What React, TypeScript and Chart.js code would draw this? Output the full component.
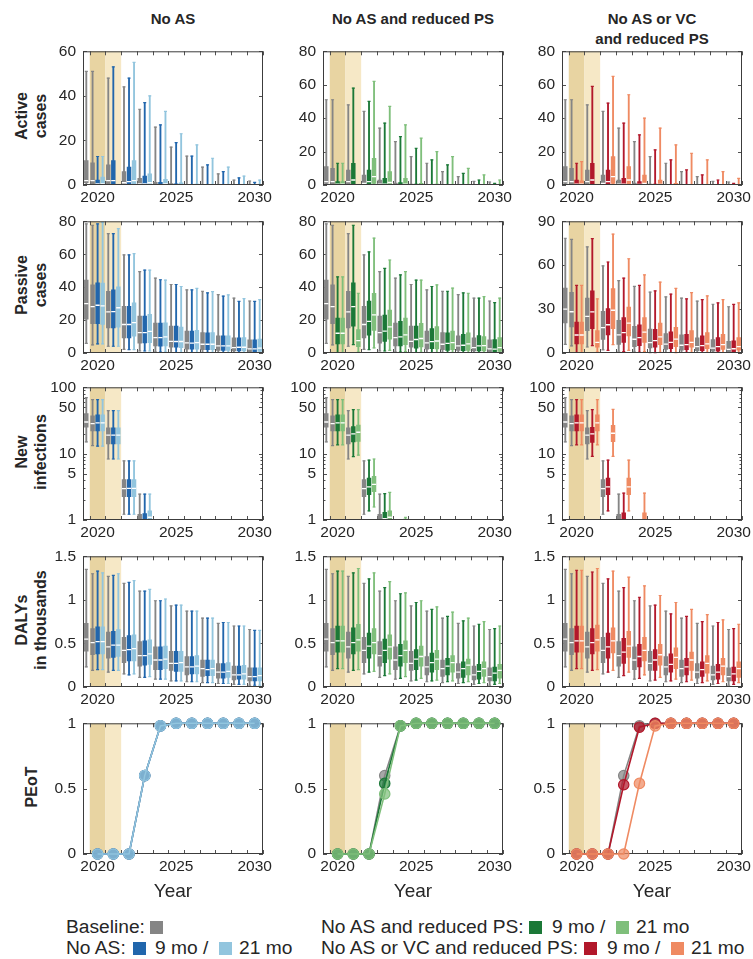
import React, { useEffect, useRef } from 'react';
import { Chart, registerables } from 'chart.js';

Chart.register(...registerables);

// ---------------- data ----------------
const YEARS = [2020, 2021, 2022, 2023, 2024, 2025, 2026, 2027, 2028, 2029, 2030];
const PRE_YEAR = 2019; // baseline-only year shown left of 2020
const X_TICK_LABELS = [2020, 2025, 2030];
const INTERRUPT_9MO = [2019.5, 2020.5];
const INTERRUPT_21MO = [2020.5, 2021.5];

// box stats: [min, q1, median, q3, max]; baseline arrays start with PRE_YEAR
const activeBaseline = [
  [0, 1, 2, 11, 51], [0, 0.5, 2, 10, 51], [0, 0.5, 2, 9, 48], [0, 0.3, 1, 6, 44],
  [0, 0, 0.5, 3, 34], [0, 0, 0.2, 1.2, 26], [0, 0, 0, 0.6, 17], [0, 0, 0, 0.3, 13],
  [0, 0, 0, 0, 8], [0, 0, 0, 0, 5], [0, 0, 0, 0, 2.2], [0, 0, 0, 0, 1.8],
];
const activeNoAS9 = [
  [0, 0, 0.5, 2.2, 12.8], [0, 0.5, 2, 11, 53], [0, 0.5, 1.5, 8, 48], [0, 0, 0.5, 4, 37],
  [0, 0, 0.2, 1.2, 27], [0, 0, 0, 0.5, 19], [0, 0, 0, 0.2, 13], [0, 0, 0, 0, 9],
  [0, 0, 0, 0, 6], [0, 0, 0, 0, 3.2], [0, 0, 0, 0, 1.2],
];
const activeNoAS21 = [
  [0, 0, 0.5, 3.5, 12.8], [0, 0, 0, 0, 0], [0, 0.5, 2, 11, 55], [0, 0, 1, 5, 40],
  [0, 0, 0.5, 2.5, 33], [0, 0, 0, 1, 23], [0, 0, 0, 0.4, 18], [0, 0, 0, 0, 12],
  [0, 0, 0, 0, 8], [0, 0, 0, 0, 4], [0, 0, 0, 0, 2.2],
];
const activeRPS9 = [
  [0, 0, 0.5, 2, 13], [0, 0.5, 3, 13, 58], [0, 0.3, 2, 9, 50], [0, 0, 0.5, 4, 37],
  [0, 0, 0.2, 1.5, 29], [0, 0, 0, 0.5, 22], [0, 0, 0, 0.2, 15], [0, 0, 0, 0, 12],
  [0, 0, 0, 0, 7], [0, 0, 0, 0, 3], [0, 0, 0, 0, 1],
];
const activeRPS21 = [
  [0, 0, 0.5, 2, 13], [0, 0, 0, 0, 0], [0, 1, 5, 16, 62], [0, 0, 1.5, 8, 47],
  [0, 0, 0.5, 4, 36], [0, 0, 0.2, 1, 28], [0, 0, 0, 0.5, 20], [0, 0, 0, 0.2, 17],
  [0, 0, 0, 0, 10], [0, 0, 0, 0, 6], [0, 0, 0, 0, 3],
];
const activeVC9 = [
  [0, 0, 0.5, 3, 13], [0, 0.5, 3, 13, 59], [0, 0.3, 2, 9, 49], [0, 0, 0.5, 4, 37],
  [0, 0, 0.3, 2, 30], [0, 0, 0, 0.5, 21], [0, 0, 0, 0.2, 15], [0, 0, 0, 0, 9],
  [0, 0, 0, 0, 6], [0, 0, 0, 0, 3], [0, 0, 0, 0, 1],
];
const activeVC21 = [
  [0, 0, 0.5, 2.5, 14], [0, 0, 0, 0, 0], [0, 1, 5, 17, 65], [0, 0.5, 3, 11, 54],
  [0, 0, 1, 6, 40], [0, 0, 0.3, 3, 34], [0, 0, 0, 1, 24], [0, 0, 0, 0.3, 19],
  [0, 0, 0, 0, 15], [0, 0, 0, 0, 8], [0, 0, 0, 0, 4],
];

const passiveBaseline = [
  [5.9, 20.6, 30, 44.3, 78.4], [4.9, 17.8, 28.2, 41.4, 77.6], [4.1, 15.3, 25, 37.5, 72.5],
  [2.2, 9.2, 17.3, 28.4, 59.6], [1.2, 5.9, 12.4, 22.4, 49.4], [0.6, 4.3, 9.4, 18.2, 45.5],
  [0.3, 3.5, 7.1, 16.3, 41.6], [0, 2.4, 6.1, 13.3, 38.4], [0, 2, 5.3, 12.4, 37.5],
  [0, 1.6, 4.3, 10.4, 35.5], [0, 1.2, 3.3, 9.2, 33.3], [0, 0.8, 2.5, 8, 31.6],
];
const passiveNoAS9 = [
  [5.5, 17.8, 29, 42.7, 78.4], [4.1, 15.3, 25.1, 38.4, 72.5], [2, 9.2, 17.3, 28.4, 59.6],
  [1.2, 6.1, 12.4, 22.4, 50.4], [0.6, 4.1, 9.4, 18.2, 44.5], [0.3, 3.5, 7, 16.3, 41.6],
  [0, 2.4, 6, 13.3, 38.4], [0, 2, 5.3, 12.2, 36.5], [0, 1.6, 4.3, 10.4, 34.5],
  [0, 1.2, 3.5, 9.2, 31.4], [0, 0.8, 2.5, 8, 31.4],
];
const passiveNoAS21 = [
  [5.5, 17.3, 28.6, 42.4, 79.4], [4.1, 15.7, 27.5, 40.2, 75.5], [2, 10.2, 18.4, 30.4, 60.4],
  [1.2, 6.3, 13.1, 23.5, 50.4], [0.6, 4.3, 9.8, 18.4, 44.3], [0.3, 3.3, 7, 15.7, 40.4],
  [0, 2.4, 6.3, 13.7, 39.2], [0, 2, 5.3, 12.4, 37.3], [0, 1.6, 4.3, 10.4, 35.3],
  [0, 1.2, 3.5, 9.4, 33], [0, 1, 3, 8.4, 32.4],
];
const passiveRPS9 = [
  [0, 5.5, 12, 21.2, 46.3], [5.1, 16.3, 28.2, 42.7, 77.6], [2, 10.8, 19.2, 31.6, 61.4],
  [1.2, 7.1, 13.3, 23.1, 51.4], [0.6, 4.3, 9.8, 19.2, 47.5], [0.3, 2.9, 8.2, 16.3, 44.3],
  [0, 2.7, 6.9, 14.9, 40.4], [0, 1.6, 5.9, 12.2, 37.5], [0, 1.4, 4.7, 11.4, 36.5],
  [0, 1.2, 4.3, 10.6, 33.3], [0, 0.8, 2.4, 8.2, 30.6],
];
const passiveRPS21 = [
  [0, 5.5, 12, 21.2, 46.3], [0.6, 3.9, 7.5, 14.3, 36.3], [3.1, 13.7, 23.1, 36.3, 69.8],
  [1.6, 8.4, 15.9, 26.1, 56.5], [0.8, 5.1, 11, 21.2, 49.4], [0.4, 3.7, 8.8, 18, 44.3],
  [0, 2.5, 7.3, 16.1, 41.4], [0, 2, 6.3, 13.3, 39.4], [0, 1.6, 5.5, 12.2, 36.3],
  [0, 1.2, 4.5, 10, 34.3], [0, 1, 3.3, 9.4, 33.3],
];
const passiveVC9 = [
  [0, 6.2, 12.3, 21.1, 46.2], [5, 16.7, 28.1, 42.4, 78.2], [1.8, 12.3, 19.3, 30.3, 62.2],
  [1, 7.3, 13.9, 24.2, 51.2], [0.5, 5, 10.5, 19.3, 46.2], [0.3, 4, 8.4, 16.1, 42.4],
  [0, 2.9, 7.3, 14.5, 40.2], [0, 2.2, 5.7, 12.8, 37], [0, 1.6, 5, 11.7, 36.5],
  [0, 1.2, 4.4, 10.5, 34.3], [0, 0.8, 2.9, 8.4, 33.2],
];
const passiveVC21 = [
  [0, 6.2, 12.3, 21.1, 46.2], [0.7, 4, 7.3, 15.4, 37], [5.7, 16.7, 29.2, 44, 81.3],
  [1.8, 11.6, 20.4, 31.4, 64.4], [1, 7.3, 14.3, 24.2, 53.4], [0.5, 5.7, 11, 20.4, 48.4],
  [0.3, 4.4, 9.5, 17.6, 44.2], [0, 4, 7.3, 15.4, 41.3], [0, 3, 6.2, 13.9, 39.1],
  [0, 2.5, 5.7, 12.8, 36.5], [0, 2, 4.4, 10.5, 34.3],
];

const infBaseline = [
  [15, 25, 30, 40, 70], [13.2, 22, 28.4, 37, 65], [8.3, 14, 19, 24.5, 44.6],
  [1.22, 2.25, 2.97, 4.07, 7.8], [0.3, 0.6, 0.8, 1.22, 2.46],
  null, null, null, null, null, null, null,
];
const infNoAS9 = [
  [13, 22, 29, 38.5, 65], [8.3, 14, 19, 24.5, 44.6], [1.22, 2.25, 3, 4.07, 7.8],
  [0.3, 0.7, 1, 1.25, 2.46], null, null, null, null, null, null, null,
];
const infNoAS21 = [
  [13, 22, 29, 38.5, 65], [8.3, 14, 19, 24.5, 44.6], [1.22, 2.25, 3, 4.07, 7.8],
  [0.3, 0.8, 1.1, 1.37, 2.46], null, null, null, null, null, null, null,
];
const infRPS9 = [
  [13.6, 22, 29, 38.5, 65], [9, 15, 19.8, 25.6, 46], [1.37, 2.4, 3.15, 4.3, 8],
  [0.4, 0.8, 1.05, 1.3, 2.5], null, null, null, null, null, null, null,
];
const infRPS21 = [
  [13.6, 22, 29, 38.5, 65], [9.5, 15.3, 21, 27, 46], [1.57, 2.67, 3.45, 4.55, 8.3],
  [0.5, 0.9, 1.1, 1.37, 2.6], [0.2, 0.4, 0.6, 1.03, 1.1], null, null, null, null, null, null,
];
const infVC9 = [
  [13.6, 22, 29, 38.5, 65], [9.1, 14.8, 19.8, 25, 46], [1.37, 2.4, 3.15, 4.3, 8],
  [0.4, 0.8, 1, 1.28, 2.54], null, null, null, null, null, null, null,
];
const infVC21 = [
  [13.6, 22, 29, 38.5, 65], [13.6, 22, 29, 38.5, 65], [9.1, 15.2, 20.3, 26.7, 46.6],
  [1.37, 2.4, 3.15, 4.3, 8], [0.4, 0.8, 1, 1.28, 2.54], null, null, null, null, null, null,
];

const dalyBaseline = [
  [0.23, 0.41, 0.55, 0.73, 1.35], [0.19, 0.37, 0.51, 0.67, 1.3], [0.17, 0.33, 0.46, 0.63, 1.27],
  [0.15, 0.28, 0.42, 0.57, 1.19], [0.11, 0.24, 0.36, 0.52, 1.1], [0.09, 0.2, 0.31, 0.46, 0.99],
  [0.07, 0.19, 0.27, 0.41, 0.93], [0.06, 0.14, 0.23, 0.35, 0.87], [0.05, 0.12, 0.21, 0.31, 0.79],
  [0.04, 0.1, 0.17, 0.27, 0.73], [0.03, 0.08, 0.14, 0.24, 0.7], [0.02, 0.07, 0.12, 0.22, 0.66],
];
const dalyNoAS9 = [
  [0.2, 0.38, 0.52, 0.69, 1.33], [0.19, 0.34, 0.48, 0.64, 1.28], [0.14, 0.3, 0.43, 0.59, 1.2],
  [0.11, 0.25, 0.36, 0.53, 1.1], [0.09, 0.2, 0.31, 0.46, 0.99], [0.07, 0.18, 0.27, 0.41, 0.94],
  [0.06, 0.15, 0.23, 0.35, 0.87], [0.05, 0.13, 0.2, 0.31, 0.79], [0.04, 0.1, 0.17, 0.27, 0.74],
  [0.03, 0.09, 0.14, 0.24, 0.7], [0.02, 0.07, 0.12, 0.22, 0.65],
];
const dalyNoAS21 = [
  [0.2, 0.38, 0.52, 0.69, 1.31], [0.19, 0.35, 0.48, 0.66, 1.3], [0.15, 0.3, 0.44, 0.6, 1.22],
  [0.12, 0.26, 0.38, 0.54, 1.12], [0.09, 0.21, 0.32, 0.47, 1.01], [0.07, 0.18, 0.28, 0.41, 0.94],
  [0.06, 0.15, 0.24, 0.36, 0.87], [0.05, 0.13, 0.21, 0.31, 0.79], [0.04, 0.11, 0.18, 0.28, 0.74],
  [0.03, 0.09, 0.15, 0.25, 0.7], [0.02, 0.07, 0.13, 0.22, 0.65],
];
const dalyRPS9 = [
  [0.21, 0.4, 0.53, 0.7, 1.33], [0.19, 0.38, 0.51, 0.68, 1.31], [0.17, 0.33, 0.47, 0.62, 1.24],
  [0.13, 0.28, 0.42, 0.55, 1.14], [0.1, 0.24, 0.36, 0.49, 1.07], [0.08, 0.2, 0.32, 0.43, 0.97],
  [0.07, 0.17, 0.28, 0.39, 0.89], [0.06, 0.14, 0.24, 0.33, 0.81], [0.05, 0.11, 0.21, 0.29, 0.76],
  [0.04, 0.09, 0.18, 0.26, 0.72], [0.03, 0.07, 0.16, 0.23, 0.67],
];
const dalyRPS21 = [
  [0.21, 0.4, 0.53, 0.7, 1.33], [0.2, 0.41, 0.54, 0.72, 1.36], [0.18, 0.38, 0.51, 0.67, 1.31],
  [0.15, 0.32, 0.46, 0.6, 1.21], [0.12, 0.28, 0.42, 0.53, 1.08], [0.1, 0.24, 0.35, 0.47, 0.99],
  [0.08, 0.2, 0.32, 0.42, 0.92], [0.07, 0.17, 0.28, 0.36, 0.86], [0.06, 0.14, 0.25, 0.32, 0.79],
  [0.05, 0.12, 0.21, 0.29, 0.75], [0.04, 0.1, 0.19, 0.26, 0.7],
];
const dalyVC9 = [
  [0.21, 0.4, 0.53, 0.7, 1.34], [0.19, 0.38, 0.51, 0.67, 1.32], [0.17, 0.33, 0.46, 0.62, 1.24],
  [0.13, 0.27, 0.4, 0.56, 1.14], [0.1, 0.23, 0.35, 0.49, 1.03], [0.08, 0.19, 0.31, 0.43, 0.94],
  [0.07, 0.17, 0.26, 0.38, 0.84], [0.06, 0.14, 0.23, 0.33, 0.81], [0.05, 0.12, 0.2, 0.29, 0.75],
  [0.04, 0.09, 0.17, 0.26, 0.74], [0.03, 0.07, 0.15, 0.23, 0.67],
];
const dalyVC21 = [
  [0.21, 0.4, 0.53, 0.7, 1.34], [0.2, 0.41, 0.54, 0.71, 1.36], [0.19, 0.39, 0.53, 0.68, 1.33],
  [0.17, 0.34, 0.47, 0.64, 1.26], [0.14, 0.3, 0.42, 0.57, 1.16], [0.11, 0.25, 0.37, 0.49, 1.05],
  [0.09, 0.21, 0.34, 0.45, 0.97], [0.08, 0.19, 0.31, 0.4, 0.89], [0.07, 0.16, 0.27, 0.36, 0.83],
  [0.06, 0.14, 0.24, 0.33, 0.77], [0.05, 0.11, 0.21, 0.29, 0.72],
];

// probability of elimination of transmission, 2020..2030
const peotBaseline = [0, 0, 0, 0.6, 0.98, 1, 1, 1, 1, 1, 1];
const peotNoAS9 = [0, 0, 0, 0.6, 0.98, 1, 1, 1, 1, 1, 1];
const peotNoAS21 = [0, 0, 0, 0.6, 0.98, 1, 1, 1, 1, 1, 1];
const peotRPS9 = [0, 0, 0, 0.54, 0.98, 1, 1, 1, 1, 1, 1];
const peotRPS21 = [0, 0, 0, 0.46, 0.98, 1, 1, 1, 1, 1, 1];
const peotVC9 = [0, 0, 0, 0.53, 0.97, 1, 1, 1, 1, 1, 1];
const peotVC21 = [0, 0, 0, 0, 0.54, 0.98, 1, 1, 1, 1, 1];

// ---------------- styling / layout ----------------
const FONT = '"Liberation Sans", Arial, Helvetica, sans-serif';
const TEXT = '#262626';
const C_BASE = '#858585';
const C_NOAS9 = '#2166ac';
const C_NOAS21 = '#92c5de';
const C_RPS9 = '#1b7837';
const C_RPS21 = '#7fbf7b';
const C_VC9 = '#b2182b';
const C_VC21 = '#ef8a62';
const SHADE_DARK = '#e8d4a2';
const SHADE_LIGHT = '#f6e8c6';
const FRAME = '#3c3c3c';

const X_MIN = 2019.07;
const X_MAX = 2030.53;
const OFF_BASE = -0.32;
const OFF_9 = 0;
const OFF_21 = 0.32;
const PRE_SHIFT = 0.28;

const PAD_L = 42;
const PAD_T = 12;
const PAD_R = 16;
const PAD_B = 28;
const COL_LEFT = [83, 323, 562];
const PLOT_W = 180;
const ROW_TOP = [47, 217, 383, 552, 719];
const ROW_H = [138, 136, 137, 135, 135];

const COLS = [
  { title: ['No AS'], dark: C_NOAS9, light: C_NOAS21 },
  { title: ['No AS and reduced PS'], dark: C_RPS9, light: C_RPS21 },
  { title: ['No AS or VC', 'and reduced PS'], dark: C_VC9, light: C_VC21 },
];

const LINEAR_80 = { type: 'linear', min: 0, max: 80, major: [0, 20, 40, 60, 80], minor: [] };
const LOG_AXIS = {
  type: 'logarithmic', min: 1, max: 100, major: [1, 5, 10, 50, 100],
  minor: [2, 3, 4, 6, 7, 8, 9, 20, 30, 40, 60, 70, 80, 90],
};
const DALY_AXIS = { type: 'linear', min: 0, max: 1.5, major: [0, 0.5, 1, 1.5], minor: [] };

const ROWS: any[] = [
  {
    label: ['Active', 'cases'],
    axes: [{ type: 'linear', min: 0, max: 60, major: [0, 20, 40, 60], minor: [] }, LINEAR_80, LINEAR_80],
    data: [
      [activeBaseline, activeNoAS9, activeNoAS21],
      [activeBaseline, activeRPS9, activeRPS21],
      [activeBaseline, activeVC9, activeVC21],
    ],
  },
  {
    label: ['Passive', 'cases'],
    axes: [LINEAR_80, LINEAR_80, { type: 'linear', min: 0, max: 90, major: [0, 30, 60, 90], minor: [] }],
    data: [
      [passiveBaseline, passiveNoAS9, passiveNoAS21],
      [passiveBaseline, passiveRPS9, passiveRPS21],
      [passiveBaseline, passiveVC9, passiveVC21],
    ],
  },
  {
    label: ['New', 'infections'],
    axes: [LOG_AXIS, LOG_AXIS, LOG_AXIS],
    data: [
      [infBaseline, infNoAS9, infNoAS21],
      [infBaseline, infRPS9, infRPS21],
      [infBaseline, infVC9, infVC21],
    ],
  },
  {
    label: ['DALYs', 'in thousands'],
    axes: [DALY_AXIS, DALY_AXIS, DALY_AXIS],
    data: [
      [dalyBaseline, dalyNoAS9, dalyNoAS21],
      [dalyBaseline, dalyRPS9, dalyRPS21],
      [dalyBaseline, dalyVC9, dalyVC21],
    ],
  },
  {
    label: ['PEoT'],
    peot: true,
    axes: [0, 1, 2].map(() => ({ type: 'linear', min: 0, max: 1, major: [0, 0.5, 1], minor: [] })),
    data: [
      [peotBaseline, peotNoAS9, peotNoAS21],
      [peotBaseline, peotRPS9, peotRPS21],
      [peotBaseline, peotVC9, peotVC21],
    ],
  },
];

function hexA(hex: string, a: number) {
  const n = parseInt(hex.slice(1), 16);
  return `rgba(${(n >> 16) & 255},${(n >> 8) & 255},${n & 255},${a})`;
}

function drawFrame(ctx: any, a: any) {
  ctx.save();
  ctx.strokeStyle = FRAME;
  ctx.lineWidth = 1;
  ctx.strokeRect(a.left + 0.5, a.top + 0.5, a.right - a.left - 1, a.bottom - a.top - 1);
  ctx.restore();
}

function decorPlugin(axis: any, frameOnTop: boolean) {
  return {
    id: 'decor',
    beforeDatasetsDraw(chart: any) {
      const { ctx, chartArea: a, scales } = chart;
      const x = scales.x;
      const y = scales.y;
      ctx.save();
      const p0 = x.getPixelForValue(INTERRUPT_9MO[0]);
      const p1 = x.getPixelForValue(INTERRUPT_9MO[1]);
      const p2 = x.getPixelForValue(INTERRUPT_21MO[1]);
      ctx.fillStyle = SHADE_DARK;
      ctx.fillRect(p0, a.top, p1 - p0, a.bottom - a.top);
      ctx.fillStyle = SHADE_LIGHT;
      ctx.fillRect(p1, a.top, p2 - p1, a.bottom - a.top);
      ctx.strokeStyle = '#505050';
      ctx.lineWidth = 1;
      ctx.beginPath();
      for (let v = PRE_YEAR + 0.5; v <= X_MAX; v += 1) {
        const px = Math.round(x.getPixelForValue(v)) + 0.5;
        ctx.moveTo(px, a.bottom);
        ctx.lineTo(px, a.bottom - 4);
        ctx.moveTo(px, a.top);
        ctx.lineTo(px, a.top + 4);
      }
      const tick = (v: number, len: number) => {
        const py = Math.round(y.getPixelForValue(v)) + 0.5;
        ctx.moveTo(a.left, py);
        ctx.lineTo(a.left + len, py);
        ctx.moveTo(a.right, py);
        ctx.lineTo(a.right - len, py);
      };
      axis.major.forEach((v: number) => tick(v, 4));
      axis.minor.forEach((v: number) => tick(v, 2.5));
      ctx.stroke();
      ctx.restore();
      if (!frameOnTop) drawFrame(ctx, a);
    },
    afterDatasetsDraw(chart: any) {
      if (frameOnTop) drawFrame(chart.ctx, chart.chartArea);
    },
  };
}

function scalesFor(axis: any) {
  return {
    x: {
      type: 'linear',
      min: X_MIN,
      max: X_MAX,
      offset: false,
      afterFit: (s: any) => { s.height = PAD_B; },
      afterBuildTicks: (s: any) => { s.ticks = X_TICK_LABELS.map((v) => ({ value: v })); },
      ticks: {
        padding: 3, maxRotation: 0, minRotation: 0, autoSkip: false,
        color: TEXT, font: { family: FONT, size: 15.5 },
        callback: (v: any) => String(v),
      },
      grid: { display: false, drawTicks: false, offset: false },
      border: { display: false },
    },
    y: {
      type: axis.type,
      min: axis.min,
      max: axis.max,
      afterFit: (s: any) => { s.width = PAD_L; },
      afterBuildTicks: (s: any) => { s.ticks = axis.major.map((v: number) => ({ value: v })); },
      ticks: {
        padding: 7, autoSkip: false,
        color: TEXT, font: { family: FONT, size: 15.5 },
        callback: (v: any) => String(v),
      },
      grid: { display: false, drawTicks: false },
      border: { display: false },
    },
  };
}

function boxDatasets(stats: any[], xs: number[], color: string) {
  const whisk: any[] = [];
  const box: any[] = [];
  const med: any[] = [];
  const caps: any[] = [];
  stats.forEach((s, i) => {
    if (!s) return;
    const [lo, q1, m, q3, hi] = s;
    if (hi <= 0) return;
    whisk.push({ x: xs[i], y: [lo, hi] });
    caps.push({ x: xs[i], y: hi });
    if (lo > 0) caps.push({ x: xs[i], y: lo });
    if (q3 > q1) {
      box.push({ x: xs[i], y: [q1, q3] });
      med.push({ x: xs[i], y: m });
    }
  });
  return [
    { type: 'bar', data: whisk, backgroundColor: color, barThickness: 1.2, grouped: false, order: 30, borderWidth: 0 },
    { type: 'bar', data: box, backgroundColor: color, barThickness: 3.8, grouped: false, order: 20, borderWidth: 0 },
    {
      type: 'scatter', data: caps, pointStyle: 'line', pointRadius: 1.5, pointBorderWidth: 1.2,
      pointBorderColor: color, borderColor: color, order: 10, clip: 2,
    },
    {
      type: 'scatter', data: med, pointStyle: 'line', pointRadius: 2.1, pointBorderWidth: 1.3,
      pointBorderColor: '#ffffff', borderColor: '#ffffff', order: 0, clip: 1,
    },
  ];
}

function boxConfig(row: any, c: number) {
  const axis = row.axes[c];
  const [base, s9, s21] = row.data[c];
  const baseXs = [PRE_YEAR + PRE_SHIFT, ...YEARS.map((y) => y + OFF_BASE)];
  const xs9 = YEARS.map((y) => y + OFF_9);
  const xs21 = YEARS.map((y) => y + OFF_21);
  const ds = [
    ...boxDatasets(base, baseXs, C_BASE),
    ...boxDatasets(s9, xs9, COLS[c].dark),
    ...boxDatasets(s21, xs21, COLS[c].light),
  ];
  return {
    type: 'bar',
    data: { datasets: ds },
    options: {
      responsive: false,
      animation: false,
      events: [],
      indexAxis: 'x',
      layout: { padding: { left: 0, top: PAD_T, right: PAD_R, bottom: 0 } },
      plugins: { legend: { display: false }, tooltip: { enabled: false } },
      scales: scalesFor(axis),
    },
    plugins: [decorPlugin(axis, true)],
  };
}

function peotConfig(row: any, c: number) {
  const axis = row.axes[c];
  const [base, s9, s21] = row.data[c];
  const mk = (vals: number[], color: string, order: number) => ({
    type: 'line',
    data: vals.map((v, i) => ({ x: YEARS[i], y: v })),
    borderColor: color,
    borderWidth: 1.6,
    pointRadius: 5.2,
    pointBorderWidth: 1.2,
    pointBackgroundColor: hexA(color, 0.72),
    pointBorderColor: color,
    clip: false,
    order,
  });
  return {
    type: 'line',
    data: { datasets: [mk(base, C_BASE, 3), mk(s9, COLS[c].dark, 2), mk(s21, COLS[c].light, 1)] },
    options: {
      responsive: false,
      animation: false,
      events: [],
      layout: { padding: { left: 0, top: PAD_T, right: PAD_R, bottom: 0 } },
      plugins: { legend: { display: false }, tooltip: { enabled: false } },
      scales: scalesFor(axis),
    },
    plugins: [decorPlugin(axis, false)],
  };
}

function Panel({ r, c }: { r: number; c: number }) {
  const ref = useRef<HTMLCanvasElement | null>(null);
  const row = ROWS[r];
  const W = PAD_L + PLOT_W + PAD_R;
  const H = PAD_T + ROW_H[r] + PAD_B;
  useEffect(() => {
    const cfg: any = row.peot ? peotConfig(row, c) : boxConfig(row, c);
    const chart = new Chart(ref.current as any, cfg);
    return () => chart.destroy();
  }, [r, c]);
  return (
    <canvas
      ref={ref}
      width={W}
      height={H}
      style={{ position: 'absolute', left: COL_LEFT[c] - PAD_L, top: ROW_TOP[r] - PAD_T, width: W, height: H }}
    />
  );
}

const txt: any = { position: 'absolute', fontFamily: FONT, color: TEXT, whiteSpace: 'nowrap' };

function Swatch({ left, top, color }: { left: number; top: number; color: string }) {
  return <div style={{ position: 'absolute', left, top, width: 13, height: 13, background: color }} />;
}

function Legend() {
  const fs = 19.2;
  const y1 = 927;
  const y2 = 948;
  const T = (left: number, y: number, s: string) => (
    <div style={{ ...txt, left, top: y, transform: 'translateY(-50%)', fontSize: fs, lineHeight: '20px' }}>{s}</div>
  );
  return (
    <>
      {T(66, y1, 'Baseline:')}
      <Swatch left={150} top={y1 - 6} color={C_BASE} />
      {T(66, y2, 'No AS:')}
      <Swatch left={133} top={y2 - 6} color={C_NOAS9} />
      {T(155, y2, '9 mo /')}
      <Swatch left={219} top={y2 - 6} color={C_NOAS21} />
      {T(239, y2, '21 mo')}
      {T(321, y1, 'No AS and reduced PS:')}
      <Swatch left={529} top={y1 - 6} color={C_RPS9} />
      {T(552, y1, '9 mo /')}
      <Swatch left={616} top={y1 - 6} color={C_RPS21} />
      {T(636, y1, '21 mo')}
      {T(321, y2, 'No AS or VC and reduced PS:')}
      <Swatch left={584} top={y2 - 6} color={C_VC9} />
      {T(607, y2, '9 mo /')}
      <Swatch left={671} top={y2 - 6} color={C_VC21} />
      {T(691, y2, '21 mo')}
    </>
  );
}

export default function App() {
  return (
    <div style={{ position: 'absolute', left: 0, top: 0, width: 753, height: 959, background: '#ffffff', overflow: 'hidden' }}>
      {COLS.map((col, c) => (
        <div
          key={'t' + c}
          style={{
            ...txt, left: COL_LEFT[c] + PLOT_W / 2, top: 9, transform: 'translateX(-50%)',
            fontSize: 15, fontWeight: 'bold', lineHeight: '20px', textAlign: 'center',
          }}
        >
          {col.title.map((t, i) => <div key={i}>{t}</div>)}
        </div>
      ))}
      {ROWS.map((row, r) => (
        <div
          key={'r' + r}
          style={{
            ...txt, left: 31, top: ROW_TOP[r] + ROW_H[r] / 2,
            transform: 'translate(-50%, -50%) rotate(-90deg)',
            fontSize: 16, fontWeight: 'bold', lineHeight: '19px', textAlign: 'center',
          }}
        >
          {row.label.map((t: string, i: number) => <div key={i}>{t}</div>)}
        </div>
      ))}
      {ROWS.map((_row, r) => COLS.map((_c, c) => <Panel key={r + '-' + c} r={r} c={c} />))}
      {COLS.map((_col, c) => (
        <div
          key={'y' + c}
          style={{ ...txt, left: COL_LEFT[c] + PLOT_W / 2, top: 891, transform: 'translate(-50%, -50%)', fontSize: 19 }}
        >
          Year
        </div>
      ))}
      <Legend />
    </div>
  );
}
